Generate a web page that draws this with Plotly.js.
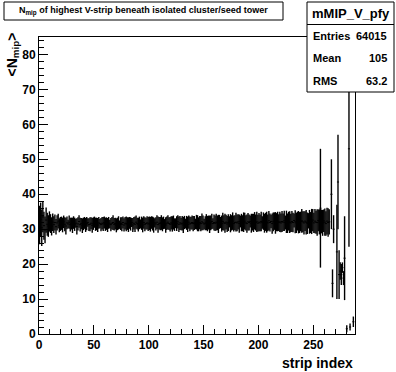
<!DOCTYPE html>
<html><head><meta charset="utf-8">
<script src="https://cdn.plot.ly/plotly-3.0.1.min.js"></script>
<style>html,body{margin:0;padding:0;background:#fff}#c{width:396px;height:372px}</style>
</head><body><div id="c"></div>
<script>
// Profile mean <N_mip> per strip (strips 0..264, dense part)
const meanBulk = [
31.2,32.8,30.4,33.5,31.0,29.8,32.6,31.4,30.9,32.2,31.6,30.8,32.0,31.3,31.9,30.7,31.8,32.3,31.1,31.5,
31.7,31.2,32.1,31.4,30.9,31.8,31.5,32.0,31.3,31.6,31.1,31.9,31.4,31.7,30.8,31.5,32.2,31.3,31.6,31.0,
31.5,31.8,31.2,31.6,31.9,31.3,31.4,31.7,31.1,31.6,32.0,31.4,31.5,31.2,31.8,31.6,31.3,31.7,31.5,31.9,
31.4,31.6,31.2,31.8,31.5,31.3,31.7,31.9,31.4,31.6,31.1,31.5,31.8,31.3,31.6,31.4,31.9,31.2,31.7,31.5,
31.6,31.3,31.8,31.5,31.9,31.2,31.7,31.4,32.0,31.6,31.3,31.8,31.5,31.7,31.2,31.9,31.4,31.6,31.8,31.5,
31.7,31.4,31.9,31.6,31.2,31.8,31.5,32.0,31.3,31.7,31.6,31.9,31.4,31.8,31.5,31.2,31.7,32.0,31.6,31.4,
31.8,31.5,31.9,31.3,31.7,31.6,32.1,31.4,31.8,31.5,31.7,31.2,31.9,31.6,31.8,31.4,32.0,31.5,31.7,31.9,
31.6,31.8,31.5,32.0,31.7,31.4,31.9,31.6,32.1,31.8,31.5,31.7,32.0,31.6,31.9,31.4,31.8,32.2,31.6,31.9,
31.7,32.0,31.8,31.5,32.1,31.9,31.6,32.2,31.8,31.7,32.0,31.5,31.9,32.1,31.7,31.8,32.3,31.6,31.9,32.0,
31.8,32.1,31.6,32.2,31.9,31.7,32.0,32.3,31.8,31.6,32.1,31.9,32.2,31.7,32.0,31.8,32.4,31.9,32.1,31.7,
32.0,31.8,32.2,31.9,32.3,31.7,32.1,32.0,31.8,32.4,31.9,32.2,31.6,32.1,32.3,31.8,32.0,32.2,31.9,32.1,
31.8,32.2,32.0,32.4,31.9,32.1,31.7,32.3,32.0,31.8,32.2,31.9,32.5,32.1,31.8,32.3,32.0,31.9,32.2,32.4,
32.1,31.8,32.3,32.0,31.7,32.4,32.1,31.9,32.2,32.6,31.8,32.3,32.0,31.9,32.5,32.1,36.0,32.2,31.8,32.4,32.0,31.6,32.3,31.9,32.1
];
const errBulk = [
5.5,4.8,5.2,4.4,4.0,3.8,3.6,3.3,3.1,2.9,2.7,2.6,2.5,2.4,2.3,2.2,2.2,2.1,2.0,2.0,
1.9,2.1,1.8,2.0,2.4,1.8,1.2,1.9,2.0,1.7,2.2,1.8,1.9,1.3,2.3,1.9,1.8,2.0,1.6,2.1,
1.8,1.7,2.0,1.9,1.2,1.8,2.0,1.7,2.1,1.8,1.6,1.9,1.8,2.0,1.7,1.3,1.9,1.8,2.0,1.7,
1.9,1.8,2.0,1.7,1.2,1.9,1.8,2.1,1.8,1.7,2.0,1.8,1.9,1.2,1.8,2.0,1.7,1.9,1.8,2.1,
1.8,2.1,1.7,1.9,1.3,2.0,1.8,2.2,1.9,1.7,2.0,1.8,1.3,1.9,2.1,1.8,2.0,1.7,1.9,2.0,
1.9,2.1,1.8,2.0,2.2,1.3,1.9,2.0,2.3,1.8,1.9,2.1,2.0,1.8,1.4,2.2,1.9,2.0,1.8,2.1,
1.9,2.2,2.0,1.8,1.4,2.1,1.9,2.2,2.0,1.8,2.1,2.3,1.9,1.4,2.0,2.2,1.9,2.1,1.8,2.0,
2.2,2.0,1.5,2.1,2.3,2.0,1.9,2.2,2.4,2.1,1.5,2.0,2.3,2.2,2.0,2.5,2.1,2.2,1.5,2.3,
2.2,2.4,2.1,2.6,2.0,1.6,2.3,2.5,2.2,2.7,2.1,2.3,2.4,1.6,2.6,2.2,2.5,2.3,2.1,2.7,
2.4,2.2,2.6,1.7,2.5,2.3,2.8,2.4,2.2,2.6,2.5,2.3,1.7,2.7,2.4,2.6,2.5,2.3,2.9,2.4,
2.6,2.4,2.8,1.8,2.5,2.7,2.6,3.0,2.4,2.8,2.6,1.9,2.9,2.7,2.5,3.1,2.6,2.8,2.4,2.9,
2.7,3.0,2.5,2.9,2.0,3.2,2.8,2.7,3.1,2.6,3.0,2.8,2.0,3.3,2.9,2.7,3.2,3.0,2.8,3.4,
3.0,3.3,2.8,3.5,3.1,2.2,3.4,3.0,3.6,3.2,2.9,3.5,3.3,3.8,3.1,3.6,17.0,3.4,3.7,3.2,3.9,3.5,3.8,4.1,3.6
];
// Sparse tail (strip index, mean, error)
const tailStrip = [266, 267, 268, 271, 272, 273, 274, 275, 276, 277, 278, 280, 282, 283, 286];
const tailMean  = [40.0, 14.5, 30.0, 23.5, 43.5, 17.0, 18.0, 17.0, 19.0, 16.0, 21.7, 1.5, 53.0, 2.0, 3.5];
const tailErr   = [10.0, 4.0, 4.0, 13.5, 13.5, 7.0, 2.5, 3.0, 1.5, 2.0, 12.0, 1.0, 28.0, 1.0, 1.5];

const statsName = "mMIP_V_pfy";
const statsLabels = ["Entries", "Mean", "RMS"];
const statsValues = ["64015", "105", "63.2"];

const x = [], y = [], e = [];
meanBulk.forEach((v, i) => { x.push(i + 0.5); y.push(v); e.push(errBulk[i]); });
tailStrip.forEach((s, i) => { x.push(s + 0.5); y.push(tailMean[i]); e.push(tailErr[i]); });

const W = 396, H = 372, L = 39, R = 41, T = 37, B = 38;
const pw = W - L - R, ph = H - T - B;
const px = v => (v - L) / pw;
const py = v => (H - B - v) / ph;
const FONT = "Liberation Sans, Arial, sans-serif";

const trace = {
  type: "scatter", mode: "markers", x: x, y: y,
  marker: {symbol: "line-ew-open", size: 1.5, color: "#000", line: {color: "#000", width: 1}},
  error_y: {type: "data", array: e, visible: true, color: "#000", thickness: 1.4, width: 0},
  hoverinfo: "skip", showlegend: false, cliponaxis: true
};

const axBase = {
  showgrid: false, zeroline: false, showline: true, mirror: true, linecolor: "#000", linewidth: 1,
  ticks: "inside", ticklen: 9, tickcolor: "#000", tickwidth: 1,
  tickfont: {family: FONT, size: 12, color: "#000", weight: "bold"}
};

const layout = {
  width: W, height: H,
  margin: {l: L, r: R, t: T, b: B, pad: 0},
  paper_bgcolor: "#fff", plot_bgcolor: "#fff",
  xaxis: Object.assign({}, axBase, {range: [0, 288], dtick: 50, tick0: 0,
    minor: {dtick: 10, ticklen: 5, ticks: "inside", tickcolor: "#000"}}),
  yaxis: Object.assign({}, axBase, {range: [0, 85], dtick: 10, tick0: 0,
    minor: {dtick: 2, ticklen: 5, ticks: "inside", tickcolor: "#000"}}),
  shapes: [
    {type: "rect", xref: "paper", yref: "paper", x0: px(4), x1: px(283), y0: py(20), y1: py(2),
     line: {color: "#000", width: 1}, fillcolor: "#fff", layer: "above"},
    {type: "rect", xref: "paper", yref: "paper", x0: px(307), x1: px(394), y0: py(92), y1: py(2),
     line: {color: "#000", width: 1}, fillcolor: "#fff", layer: "above"},
    {type: "line", xref: "paper", yref: "paper", x0: px(307), x1: px(394), y0: py(24.5), y1: py(24.5),
     line: {color: "#000", width: 1}, layer: "above"}
  ],
  annotations: [
    {xref: "paper", yref: "paper", x: px(143.5), y: py(11), xanchor: "center", yanchor: "middle",
     text: "N<sub>mip</sub> of highest V-strip beneath isolated cluster/seed tower", showarrow: false,
     font: {family: FONT, size: 9, color: "#000", weight: "bold"}},
    {xref: "paper", yref: "paper", x: px(350.5), y: py(13.5), xanchor: "center", yanchor: "middle",
     text: statsName, showarrow: false, font: {family: FONT, size: 13, color: "#000", weight: "bold"}},
    {xref: "paper", yref: "paper", x: 1, y: py(363), xanchor: "right", yanchor: "middle",
     text: "strip index", showarrow: false, font: {family: FONT, size: 14, color: "#000", weight: "bold"}},
    {xref: "paper", yref: "paper", x: px(12.5), y: py(55), xanchor: "center", yanchor: "middle", textangle: -90,
     text: "&lt;N<sub>mip</sub>&gt;", showarrow: false, font: {family: FONT, size: 14, color: "#000", weight: "bold"}}
  ]
};
const rowY = [36, 58.5, 81];
statsLabels.forEach((lab, i) => {
  layout.annotations.push({xref: "paper", yref: "paper", x: px(311), y: py(rowY[i]), xanchor: "left", yanchor: "middle",
    text: lab, showarrow: false, font: {family: FONT, size: 11, color: "#000", weight: "bold"}});
  layout.annotations.push({xref: "paper", yref: "paper", x: px(389), y: py(rowY[i]), xanchor: "right", yanchor: "middle",
    text: statsValues[i], showarrow: false, font: {family: FONT, size: 11, color: "#000", weight: "bold"}});
});

Plotly.newPlot("c", [trace], layout, {displayModeBar: false, staticPlot: true});
</script></body></html>
